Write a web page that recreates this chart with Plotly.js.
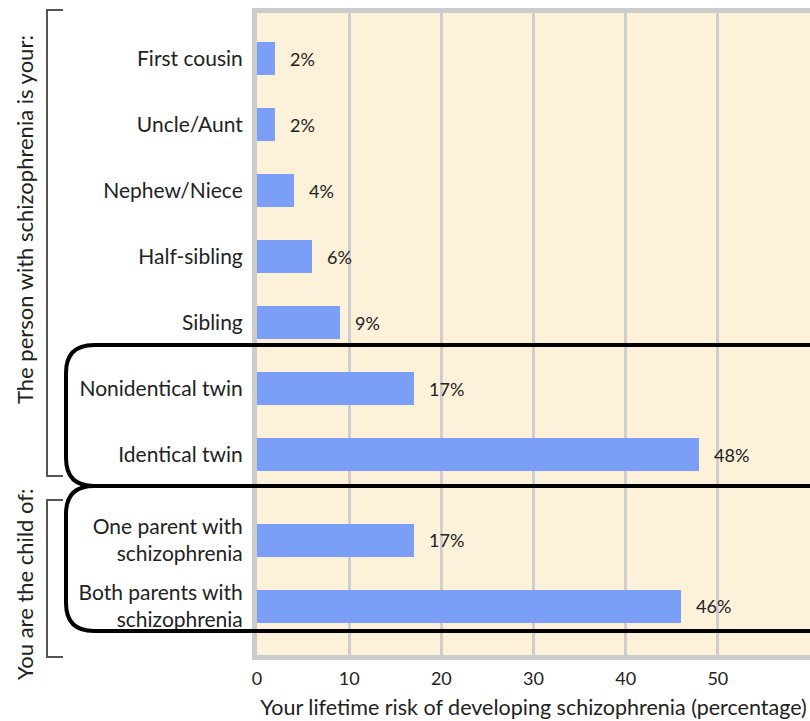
<!DOCTYPE html>
<html>
<head>
<meta charset="utf-8">
<script src="https://cdn.plot.ly/plotly-3.0.1.min.js"></script>
<style>html,body{margin:0;padding:0;background:#fff;}#chart{width:810px;height:721px;}</style>
</head>
<body>
<div id="chart"></div>
<script>
// ---- data ----
const categories = ["First cousin","Uncle/Aunt","Nephew/Niece","Half-sibling","Sibling","Nonidentical twin","Identical twin","One parent with<br>schizophrenia","Both parents with<br>schizophrenia"];
const risks = [2, 2, 4, 6, 9, 17, 48, 17, 46];
const rowPos = [0, 1, 2, 3, 4, 5, 6, 7.3, 8.3];
const xTicks = [0, 10, 20, 30, 40, 50];
const groupLabels = ["The person with schizophrenia is your:", "You are the child of:"];

// ---- geometry helpers (pixel -> paper) ----
const L = 257, R = 810, T = 13, B = 655;
const px = v => (v - L) / (R - L);
const py = v => (B - v) / (B - T);
function roundedOpen(left, top, bottom, right, r) {
  return `M ${px(right)} ${py(top)} L ${px(left + r)} ${py(top)} Q ${px(left)} ${py(top)} ${px(left)} ${py(top + r)} ` +
         `L ${px(left)} ${py(bottom - r)} Q ${px(left)} ${py(bottom)} ${px(left + r)} ${py(bottom)} L ${px(right)} ${py(bottom)}`;
}
function bracket(x0, x1, y0, y1) {
  return `M ${px(x1)} ${py(y0)} L ${px(x0)} ${py(y0)} L ${px(x0)} ${py(y1)} L ${px(x1)} ${py(y1)}`;
}

const font = "Lato, 'Open Sans', sans-serif";
const textColor = "#222222";

const trace = {
  type: "bar",
  orientation: "h",
  x: risks,
  y: rowPos,
  width: 0.5,
  marker: { color: "#7b9ef6", line: { width: 0 } },
  hoverinfo: "skip"
};

const annotations = risks.map((v, i) => ({
  x: v, y: rowPos[i], xref: "x", yref: "y",
  text: v + "%", showarrow: false, xanchor: "left", yanchor: "middle", xshift: 13,
  font: { family: font, size: 18, color: textColor }
}));
annotations.push({
  xref: "paper", yref: "paper", x: px(24), y: py(220), text: groupLabels[0],
  textangle: -90, showarrow: false, xanchor: "center", yanchor: "middle",
  font: { family: font, size: 22, color: textColor }
});
annotations.push({
  xref: "paper", yref: "paper", x: px(24), y: py(584), text: groupLabels[1],
  textangle: -90, showarrow: false, xanchor: "center", yanchor: "middle",
  font: { family: font, size: 22, color: textColor }
});

const shapes = [
  { type: "path", xref: "paper", yref: "paper", path: roundedOpen(66, 345, 486, 840, 28), line: { color: "#000", width: 4 } },
  { type: "path", xref: "paper", yref: "paper", path: roundedOpen(66, 486, 631, 840, 28), line: { color: "#000", width: 4 } },
  { type: "path", xref: "paper", yref: "paper", path: bracket(47, 63, 10, 476), line: { color: "#555", width: 2 } },
  { type: "path", xref: "paper", yref: "paper", path: bracket(47, 63, 500, 657), line: { color: "#555", width: 2 } }
];

const layout = {
  width: 810, height: 721,
  margin: { l: L, r: 810 - R, t: T, b: 721 - B, pad: 0 },
  paper_bgcolor: "#ffffff",
  plot_bgcolor: "#fdf1d9",
  showlegend: false,
  bargap: 0,
  xaxis: {
    range: [0, 60], tickvals: xTicks, ticktext: xTicks.map(String),
    showgrid: true, gridcolor: "#cfcfcf", gridwidth: 3,
    zeroline: false, showline: true, linecolor: "#cccccc", linewidth: 5, mirror: true,
    ticks: "", ticklabelstandoff: 3,
    tickfont: { family: font, size: 18, color: textColor },
    title: { text: "Your lifetime risk of developing schizophrenia (percentage)", standoff: 14,
             font: { family: font, size: 21.5, color: textColor } },
    fixedrange: true
  },
  yaxis: {
    range: [9.035, -0.69], tickvals: rowPos, ticktext: categories,
    showgrid: false, zeroline: false, showline: true, linecolor: "#cccccc", linewidth: 5,
    ticks: "", ticklabelstandoff: 5,
    tickfont: { family: font, size: 21, color: textColor },
    fixedrange: true
  },
  annotations: annotations,
  shapes: shapes
};

Plotly.newPlot("chart", [trace], layout, { displayModeBar: false, staticPlot: true });
</script>
</body>
</html>
